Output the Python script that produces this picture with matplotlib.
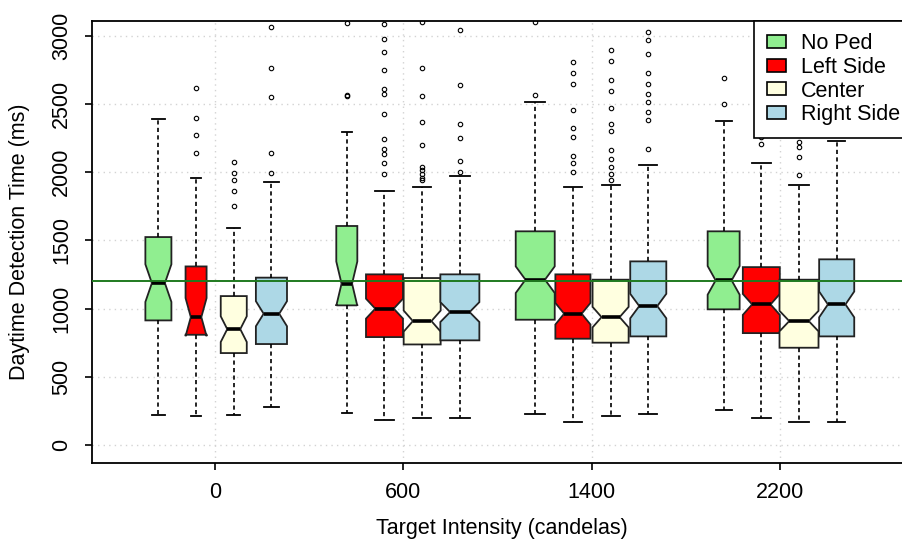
import numpy as np
import matplotlib
matplotlib.use("Agg")
from matplotlib import pyplot as plt
from matplotlib.patches import Patch

plt.rcParams['font.family'] = ['Liberation Sans', 'DejaVu Sans']

# target intensity groups and pedestrian conditions
groups = ["0", "600", "1400", "2200"]
conditions = ["No Ped", "Left Side", "Center", "Right Side"]
colors = ["#90EE90", "#FF0000", "#FFFFE0", "#ADD8E6"]

# box stats per condition, one value per group (ms)
noped_low = [225, 239, 227, 256]
noped_q1 = [915, 1025, 920, 996]
noped_med = [1188, 1184, 1213, 1208]
noped_q3 = [1525, 1606, 1567, 1567]
noped_high = [2392, 2294, 2513, 2374]
noped_n = [49, 32, 110, 74]
noped_out = [[], [2555, 2565, 3094], [2567, 3099], [2499, 2689]]

left_low = [212, 188, 173, 202]
left_q1 = [810, 793, 781, 822]
left_med = [939, 1001, 964, 1032]
left_q3 = [1310, 1252, 1252, 1305]
left_high = [1957, 1862, 1889, 2067]
left_n = [32, 99, 89, 99]
left_out = [[2140, 2274, 2399, 2613],
            [1989, 2067, 2135, 2172, 2245, 2428, 2574, 2611, 2745, 2879, 2977, 3087],
            [1999, 2067, 2116, 2258, 2323, 2452, 2646, 2727, 2806],
            [2208, 2258]]

center_low = [225, 200, 212, 171]
center_q1 = [676, 739, 752, 715]
center_med = [851, 910, 939, 910]
center_q3 = [1093, 1225, 1213, 1213]
center_high = [1591, 1889, 1908, 1903]
center_n = [49, 99, 94, 110]
center_out = [[1750, 1862, 1940, 1994, 2074],
              [1940, 1960, 1990, 2015, 2040, 2201, 2365, 2559, 2762, 3099],
              [1940, 1989, 2038, 2099, 2160, 2299, 2355, 2472, 2594, 2672, 2811, 2896],
              [1977, 2111, 2184, 2221]]

right_low = [281, 200, 227, 171]
right_q1 = [742, 769, 798, 798]
right_med = [964, 976, 1020, 1032]
right_q3 = [1228, 1252, 1347, 1362]
right_high = [1930, 1972, 2055, 2228]
right_n = [70, 110, 94, 89]
right_out = [[1994, 2140, 2553, 2762, 3062],
             [2001, 2079, 2250, 2355, 2635, 3038],
             [2172, 2379, 2440, 2513, 2574, 2646, 2727, 2865, 2970, 3026],
             []]

reference_line = 1200

series = [
    (noped_low, noped_q1, noped_med, noped_q3, noped_high, noped_n, noped_out),
    (left_low, left_q1, left_med, left_q3, left_high, left_n, left_out),
    (center_low, center_q1, center_med, center_q3, center_high, center_n, center_out),
    (right_low, right_q1, right_med, right_q3, right_high, right_n, right_out),
]

# build the stats like R's boxplot(notch=TRUE, varwidth=TRUE)
offsets = [-0.3, -0.1, 0.1, 0.3]
max_n = max(max(s[5]) for s in series)
stats, positions, widths, fills = [], [], [], []
for g in range(len(groups)):
    for c, s in enumerate(series):
        lo, q1, med, q3, hi, n, out = (v[g] for v in s)
        half = 1.58 * (q3 - q1) / np.sqrt(n)
        stats.append(dict(med=med, q1=q1, q3=q3, whislo=lo, whishi=hi,
                          fliers=out, cilo=med - half, cihi=med + half))
        positions.append(g + 1 + offsets[c])
        widths.append(0.207 * np.sqrt(n / max_n))
        fills.append(colors[c])
widths = np.array(widths)

fs = 15.5
fig = plt.figure(figsize=(9.02, 5.47), dpi=100)
# plot region runs a bit past the right edge of the picture, as in the original
ax = fig.add_axes([91.5 / 902, 1 - 462.5 / 547, (913 - 91.5) / 902, (462.5 - 20.5) / 547])

# dotted grid
for y in range(0, 3001, 500):
    ax.axhline(y, color="#D3D3D3", lw=1, ls=(0, (1, 3)), zorder=0)
for x in range(1, 5):
    ax.axvline(x, color="#D3D3D3", lw=1, ls=(0, (1, 3)), zorder=0)

bp = ax.bxp(stats, positions=positions, widths=widths, capwidths=widths / 2,
            shownotches=True, patch_artist=True, manage_ticks=False,
            boxprops=dict(edgecolor="#222222", linewidth=1.3),
            whiskerprops=dict(color="black", linewidth=1.2, linestyle=(0, (2.5, 2))),
            capprops=dict(color="black", linewidth=1.3),
            medianprops=dict(color="black", linewidth=2.6),
            flierprops=dict(marker="o", markersize=3.2, markerfacecolor="none",
                            markeredgecolor="black", markeredgewidth=0.8))
for patch, col in zip(bp["boxes"], fills):
    patch.set_facecolor(col)

ax.axhline(reference_line, color="#1f7a1f", lw=1.4, zorder=3)

ax.set_xlim(0.345, 4.705)
ax.set_ylim(-125, 3110)
ax.set_xticks(range(1, 5))
ax.set_xticklabels(groups)
ax.set_yticks(range(0, 3001, 500))
ax.set_yticklabels([str(v) for v in range(0, 3001, 500)], rotation=90, va="center")
ax.tick_params(labelsize=fs, length=5, width=1.2, pad=9)
for sp in ax.spines.values():
    sp.set_linewidth(1.3)

ax.set_xlabel("Target Intensity (candelas)", fontsize=fs, labelpad=11)
ax.set_ylabel("Daytime Detection Time (ms)", fontsize=fs, labelpad=15)

handles = [Patch(facecolor=col, edgecolor="black", linewidth=1.2) for col in colors]
leg = ax.legend(handles, conditions, loc="upper right", fontsize=fs,
                fancybox=False, edgecolor="black", framealpha=1, borderaxespad=0,
                handlelength=0.9, handleheight=0.55, handletextpad=0.7,
                labelspacing=0.12, borderpad=0.6)
leg.get_frame().set_linewidth(1.2)

plt.savefig("out.png", dpi=100)
